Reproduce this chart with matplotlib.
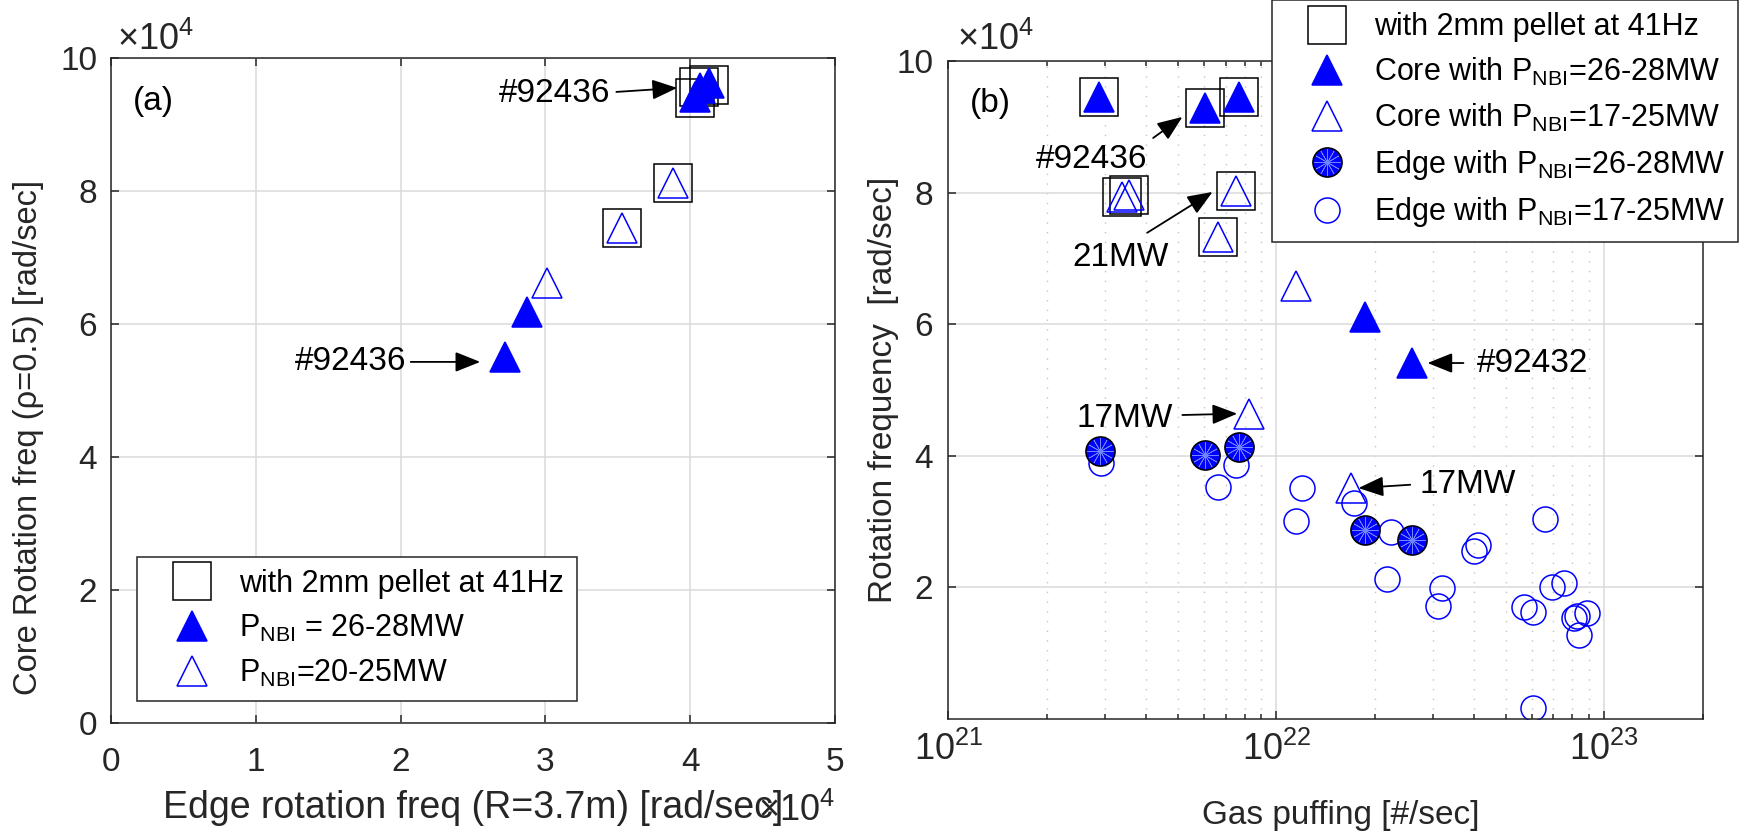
import matplotlib
matplotlib.use("Agg")
import matplotlib.pyplot as plt
from matplotlib.lines import Line2D
from matplotlib.ticker import FuncFormatter, LogLocator, NullFormatter, MultipleLocator
from matplotlib.legend_handler import HandlerTuple

plt.rcParams["font.family"] = ["Liberation Sans", "DejaVu Sans"]
plt.rcParams["mathtext.fontset"] = "custom"
plt.rcParams["mathtext.rm"] = "Liberation Sans"
plt.rcParams["mathtext.it"] = "Liberation Sans:italic"
plt.rcParams["mathtext.bf"] = "Liberation Sans:bold"

# ── (a) core (rho=0.5) vs edge (R=3.7m) rotation, rad/sec ────────────────────
edge_hi_a = [40300, 40700, 41300, 28700, 27200]      # P_NBI = 26-28MW
core_hi_a = [94200, 95500, 96200, 61800, 55000]
edge_lo_a = [38800, 35300, 30100]                    # P_NBI = 20-25MW
core_lo_a = [81200, 74400, 66200]
edge_pel_a = [40300, 40600, 41300, 38800, 35300]     # 2mm pellet at 41Hz
core_pel_a = [94000, 95600, 95900, 81200, 74400]

# ── (b) rotation vs gas puffing [#/sec] ─────────────────────────────────────
gas_pel = [2.88e21, 6.07e21, 7.70e21, 3.39e21, 3.56e21, 7.55e21, 6.65e21]
rot_pel = [94500, 92900, 94500, 79300, 79600, 80200, 73300]

gas_core_hi = [2.88e21, 6.07e21, 7.70e21, 1.86e22, 2.60e22]
rot_core_hi = [94500, 92900, 94500, 61100, 54100]

gas_core_lo = [3.39e21, 3.56e21, 7.55e21, 6.65e21, 1.15e22, 8.28e21, 1.69e22]
rot_core_lo = [79300, 79600, 80200, 73300, 65800, 46400, 35100]

gas_edge_hi = [2.90e21, 6.07e21, 7.70e21, 1.86e22, 2.60e22]
rot_edge_hi = [40700, 40100, 41300, 28700, 27200]

gas_edge_lo = [2.92e21, 7.55e21, 6.65e21, 1.20e22, 1.15e22, 1.72e22, 2.23e22,
               2.18e22, 3.19e22, 3.12e22, 6.58e22, 4.13e22, 4.02e22, 6.95e22,
               7.53e22, 5.71e22, 6.08e22, 8.06e22, 8.24e22, 8.85e22, 8.36e22,
               6.08e22]
rot_edge_lo = [38900, 38600, 35300, 35100, 30100, 32800, 28400,
               21300, 19900, 17200, 30400, 26400, 25500, 20100,
               20700, 17000, 16300, 15300, 15700, 16100, 12800,
               1700]

BLUE = "#0000ff"
DARK = "#262626"
FS_TICK = 24
FS_OFF = 26
FS_NOTE = 24
FS_LEG = 22

sq_kw = dict(ls="none", marker="s", ms=28, mfc="none", mec="k", mew=1.1)
tri_f_kw = dict(ls="none", marker="^", ms=21, mfc=BLUE, mec=BLUE, mew=1.1)
tri_o_kw = dict(ls="none", marker="^", ms=21, mfc="none", mec=BLUE, mew=1.1)
dot_f_kw = dict(ls="none", marker="o", ms=21, mfc=BLUE, mec="k", mew=1.1)
star_kw = dict(ls="none", marker=(12, 2, 0), ms=19, mec="#6f86ff", mew=0.5)
dot_o_kw = dict(ls="none", marker="o", ms=18, mfc="none", mec=BLUE, mew=1.1)

to_1e4 = FuncFormatter(lambda v, _: f"{v / 1e4:g}")


def style_axes(ax):
    for s in ax.spines.values():
        s.set_linewidth(1.1)
        s.set_color(DARK)
    ax.tick_params(which="both", direction="in", top=True, right=True,
                   colors=DARK, labelsize=FS_TICK, width=1.1)
    ax.tick_params(which="major", length=6)
    ax.tick_params(which="minor", length=3.6)
    ax.set_axisbelow(True)
    ax.grid(True, which="major", color="#dadada", lw=1.1, ls="-")


def arrow(ax, tail, tip):
    ax.annotate("", xy=tip, xytext=tail,
                arrowprops=dict(arrowstyle="-|>,head_length=0.55,head_width=0.22",
                                color="k", lw=1.3, mutation_scale=28,
                                shrinkA=0, shrinkB=0))


def legend_kw():
    return dict(fontsize=FS_LEG, frameon=True, fancybox=False, framealpha=1,
                edgecolor=DARK, handlelength=2.8, handletextpad=0.15,
                labelspacing=0.45, borderpad=0.4, borderaxespad=0,
                handler_map={tuple: HandlerTuple(ndivide=1, pad=0)})


fig = plt.figure(figsize=(17.41, 8.33), dpi=100)
ax1 = fig.add_axes([0.06376, 0.13205, 0.41585, 0.79832])
ax2 = fig.add_axes([0.54474, 0.13685, 0.43343, 0.78992])

# ── panel (a) ────────────────────────────────────────────────────────────────
style_axes(ax1)
ax1.plot(edge_pel_a, core_pel_a, **sq_kw)
ax1.plot(edge_hi_a, core_hi_a, **tri_f_kw)
ax1.plot(edge_lo_a, core_lo_a, **tri_o_kw)
ax1.set_xlim(0, 50000)
ax1.set_ylim(0, 100000)
ax1.xaxis.set_major_locator(MultipleLocator(10000))
ax1.yaxis.set_major_locator(MultipleLocator(20000))
ax1.xaxis.set_major_formatter(to_1e4)
ax1.yaxis.set_major_formatter(to_1e4)
ax1.tick_params(axis="x", pad=17)
ax1.tick_params(axis="y", pad=10)
ax1.set_xlabel("Edge rotation freq (R=3.7m) [rad/sec]", fontsize=27, color=DARK)
ax1.set_ylabel("Core Rotation freq (ρ=0.5) [rad/sec]", fontsize=23.5, color=DARK)
ax1.xaxis.set_label_coords(0.5, -0.100)
ax1.yaxis.set_label_coords(-0.092, 0.43)
ax1.text(0.008, 1.012, "×10$^{4}$", transform=ax1.transAxes, fontsize=FS_OFF,
         color=DARK, ha="left", va="baseline")
ax1.text(1.0, -0.148, "×10$^{4}$", transform=ax1.transAxes, fontsize=FS_OFF,
         color=DARK, ha="right", va="baseline")
ax1.text(0.03, 0.935, "(a)", transform=ax1.transAxes, fontsize=FS_NOTE,
         ha="left", va="center")

ax1.text(30660, 94700, "#92436", fontsize=FS_NOTE, ha="center", va="center")
arrow(ax1, (34900, 94900), (39100, 95500))
ax1.text(16570, 54300, "#92436", fontsize=FS_NOTE, ha="center", va="center")
arrow(ax1, (20700, 54300), (25500, 54300))

leg_a = [Line2D([], [], **sq_kw), Line2D([], [], **tri_f_kw), Line2D([], [], **tri_o_kw)]
lab_a = ["with 2mm pellet at 41Hz", r"P$_{\mathrm{NBI}}$ = 26-28MW",
         r"P$_{\mathrm{NBI}}$=20-25MW"]
la = ax1.legend(leg_a, lab_a, loc="lower left", bbox_to_anchor=(0.036, 0.033),
                **legend_kw())
la.get_frame().set_linewidth(1.1)

# ── panel (b) ────────────────────────────────────────────────────────────────
style_axes(ax2)
ax2.set_xscale("log")
ax2.grid(True, which="minor", axis="x", color="#c4c4c4", lw=1.0, ls=(0, (1, 6)))
ax2.plot(gas_pel, rot_pel, **sq_kw)
ax2.plot(gas_core_hi, rot_core_hi, **tri_f_kw)
ax2.plot(gas_core_lo, rot_core_lo, **tri_o_kw)
ax2.plot(gas_edge_lo, rot_edge_lo, **dot_o_kw)
ax2.plot(gas_edge_hi, rot_edge_hi, **dot_f_kw)
ax2.plot(gas_edge_hi, rot_edge_hi, **star_kw)
ax2.set_xlim(1e21, 2e23)
ax2.set_ylim(0, 100000)
ax2.xaxis.set_major_locator(LogLocator(base=10))
ax2.xaxis.set_minor_locator(LogLocator(base=10, subs=range(2, 10)))
ax2.xaxis.set_minor_formatter(NullFormatter())
ax2.set_yticks([20000, 40000, 60000, 80000, 100000])
ax2.yaxis.set_major_formatter(to_1e4)
ax2.tick_params(axis="x", pad=9, labelsize=26)
ax2.tick_params(axis="y", pad=11)
ax2.set_xlabel("Gas puffing [#/sec]", fontsize=24, color=DARK)
ax2.set_ylabel("Rotation frequency  [rad/sec]", fontsize=24, color=DARK)
ax2.xaxis.set_label_coords(0.52, -0.123)
ax2.yaxis.set_label_coords(-0.066, 0.5)
ax2.text(0.012, 1.017, "×10$^{4}$", transform=ax2.transAxes, fontsize=FS_OFF,
         color=DARK, ha="left", va="baseline")
ax2.text(0.029, 0.935, "(b)", transform=ax2.transAxes, fontsize=FS_NOTE,
         ha="left", va="center")

ax2.text(2.74e21, 85000, "#92436", fontsize=FS_NOTE, ha="center", va="center")
arrow(ax2, (4.21e21, 88300), (5.17e21, 91500))
ax2.text(3.34e21, 70200, "21MW", fontsize=FS_NOTE, ha="center", va="center")
arrow(ax2, (4.04e21, 73900), (6.39e21, 80100))
ax2.text(3.46e21, 45700, "17MW", fontsize=FS_NOTE, ha="center", va="center")
arrow(ax2, (5.17e21, 46200), (7.60e21, 46400))
ax2.text(3.83e22, 35600, "17MW", fontsize=FS_NOTE, ha="center", va="center")
arrow(ax2, (2.56e22, 35600), (1.78e22, 35100))
ax2.text(6.04e22, 54100, "#92432", fontsize=FS_NOTE, ha="center", va="center")
arrow(ax2, (3.72e22, 54100), (2.89e22, 54100))

leg_b = [Line2D([], [], **sq_kw), Line2D([], [], **tri_f_kw), Line2D([], [], **tri_o_kw),
         (Line2D([], [], **dot_f_kw), Line2D([], [], **star_kw)),
         Line2D([], [], **dot_o_kw)]
lab_b = ["with 2mm pellet at 41Hz",
         r"Core with P$_{\mathrm{NBI}}$=26-28MW",
         r"Core with P$_{\mathrm{NBI}}$=17-25MW",
         r"Edge with P$_{\mathrm{NBI}}$=26-28MW",
         r"Edge with P$_{\mathrm{NBI}}$=17-25MW"]
lb = fig.legend(leg_b, lab_b, loc="upper left", bbox_to_anchor=(0.7306, 1.0),
                **legend_kw())
lb.get_frame().set_linewidth(1.1)

fig.savefig("out.png", dpi=100)
